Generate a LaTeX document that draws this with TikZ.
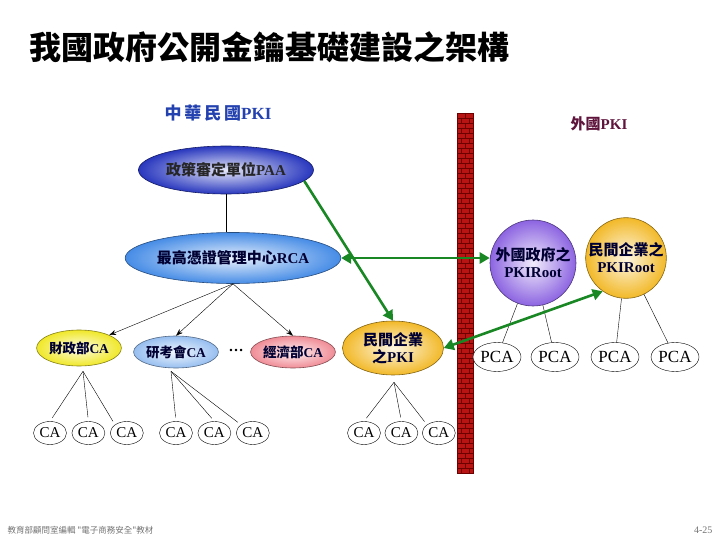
\documentclass[tikz,border=0pt]{standalone}
\usepackage{fontspec}
\setmainfont{Liberation Serif}
\newfontfamily\tc{Noto Sans CJK TC}
\usetikzlibrary{
    arrows.meta,
    positioning,
    shapes.geometric,
    calc
}

\definecolor{paablue}{RGB}{40,55,190}
\definecolor{rcablue}{RGB}{70,140,230}
\definecolor{mofyellow}{RGB}{240,232,40}
\definecolor{rdecblue}{RGB}{150,190,240}
\definecolor{moeared}{RGB}{240,140,150}
\definecolor{pkiorange}{RGB}{242,185,40}
\definecolor{govpurple}{RGB}{140,100,225}
\definecolor{linkgreen}{RGB}{25,135,35}
\definecolor{brickred}{RGB}{185,20,20}
\definecolor{mortar}{RGB}{110,0,0}
\definecolor{rocblue}{RGB}{35,65,175}
\definecolor{foreignred}{RGB}{95,20,60}

\begin{document}
\begin{tikzpicture}[
        x=1pt, y=-1pt,
        org/.style={
            ellipse,
            draw=#1!55!black,
            line width=0.6pt,
            shade,
            inner color=#1!12!white,
            outer color=#1,
            align=center,
            inner sep=0pt,
            text=black!80!blue,
            font=\bfseries\fontsize{15}{17}\selectfont
        },
        root/.style={
            org=#1,
            circle,
            minimum size=84pt
        },
        leaf/.style={
            ellipse,
            draw,
            fill=white,
            inner sep=0pt,
            minimum width=33pt,
            minimum height=23pt,
            font=\fontsize{15}{17}\selectfont
        },
        pcabox/.style={
            leaf,
            minimum width=48pt,
            minimum height=29pt,
            font=\fontsize{17}{19}\selectfont
        },
        line/.style={
            -{Stealth[length=7pt,width=5pt]},
            thin
        },
        link/.style={
            linkgreen,
            line width=2.6pt,
            -{Triangle[length=10pt,width=11pt]}
        },
        node distance=5pt
    ]

    \useasboundingbox (0,0) rectangle (720,540);

    % title and footer
    \node[font=\tc\bfseries\fontsize{32}{34}\selectfont, anchor=west] (title) at (26,47)
        {我國政府公開金鑰基礎建設之架構};
    \node[font=\tc\fontsize{8.5}{10}\selectfont, text=black!55, anchor=west] (footer) at (4,530)
        {教育部顧問室編輯 "電子商務安全"教材};
    \node[font=\fontsize{10}{12}\selectfont, text=black!55, anchor=east] (page) at (716,530)
        {4-25};

    % firewall
    \fill[brickred] (457,113) rectangle (473,473);
    \foreach \r in {0,...,71} {
        \draw[mortar, line width=0.5pt] (457,113+\r*5) -- (473,113+\r*5);
    }
    \foreach \r in {0,2,...,70} {
        \draw[mortar, line width=0.5pt] (465,113+\r*5) -- (465,118+\r*5);
        \draw[mortar, line width=0.5pt] (461,118+\r*5) -- (461,123+\r*5);
        \draw[mortar, line width=0.5pt] (469,118+\r*5) -- (469,123+\r*5);
    }
    \draw[mortar, line width=0.8pt] (457,113) rectangle (473,473);

    % domestic side
    \node[font=\bfseries\fontsize{17}{19}\selectfont, text=rocblue] (roc) at (218,113)
        {{\tc 中\,華\,民\,國}PKI};

    \node[org=paablue, minimum width=175pt, minimum height=48pt, text=black!85] (paa) at (226,170)
        {{\tc 政策審定單位}PAA};
    \node[org=rcablue, minimum width=193pt, minimum height=51pt] (rca) at (233,258)
        {{\tc 最高憑證管理中心}RCA};

    \node[org=mofyellow, minimum width=82pt, minimum height=36pt,
          font=\bfseries\fontsize{13.5}{15}\selectfont] (mof) at (79,348)
        {{\tc 財政部}CA};
    \node[org=rdecblue, minimum width=78pt, minimum height=32pt,
          font=\bfseries\fontsize{13.5}{15}\selectfont] (rdec) at (176,352)
        {{\tc 研考會}CA};
    \node[font=\bfseries\fontsize{15}{17}\selectfont] (dots) at (236,350) {…};
    \node[org=moeared, minimum width=78pt, minimum height=32pt,
          font=\bfseries\fontsize{13.5}{15}\selectfont] (moea) at (293,352)
        {{\tc 經濟部}CA};
    \node[org=pkiorange, minimum width=101pt, minimum height=54pt] (privpki) at (393,348)
        {{\tc 民間企業}\\{\tc 之}PKI};

    % foreign side
    \node[font=\bfseries\fontsize{15}{17}\selectfont, text=foreignred] (foreign) at (599,124)
        {{\tc 外國}PKI};
    \node[root=govpurple, minimum size=86pt] (forgov) at (533,263)
        {{\tc 外國政府之}\\PKIRoot};
    \node[root=pkiorange, minimum size=80pt] (forpriv) at (626,258)
        {{\tc 民間企業之}\\PKIRoot};

    % leaf authorities
    \node[leaf] (ca1) at (50,433) {CA};
    \node[leaf, right=of ca1] (ca2) {CA};
    \node[leaf, right=of ca2] (ca3) {CA};
    \node[leaf] (ca4) at (176,433) {CA};
    \node[leaf, right=of ca4] (ca5) {CA};
    \node[leaf, right=of ca5] (ca6) {CA};
    \node[leaf] (ca7) at (364,433) {CA};
    \node[leaf, right=4pt of ca7] (ca8) {CA};
    \node[leaf, right=4pt of ca8] (ca9) {CA};

    \node[pcabox] (pca1) at (497,357) {PCA};
    \node[pcabox] (pca2) at (555,357) {PCA};
    \node[pcabox] (pca3) at (615,357) {PCA};
    \node[pcabox] (pca4) at (675,357) {PCA};

    % hierarchy lines
    \draw[thin] (paa.south) -- (paa.south |- rca.north);
    \draw[line] (rca.south) -- (mof.north east);
    \draw[line] (rca.south) -- (rdec.north);
    \draw[line] (rca.south) -- (moea.north);

    \coordinate (mofhub) at ($(mof.south)+(4,5)$);
    \coordinate (rdechub) at ($(rdec.south)+(-5,3)$);
    \coordinate (pkihub) at ($(privpki.south)+(1,7)$);
    \foreach \hub/\a/\b/\c in {mofhub/ca1/ca2/ca3, rdechub/ca4/ca5/ca6, pkihub/ca7/ca8/ca9} {
        \draw[thin, shorten >=4pt] (\hub) -- (\a.north);
        \draw[thin, shorten >=4pt] (\hub) -- (\b.north);
        \draw[thin, shorten >=4pt] (\hub) -- (\c.north west);
    }

    \draw[thin] (forgov) -- (pca1);
    \draw[thin] (forgov) -- (pca2);
    \draw[thin] (forpriv) -- (pca3);
    \draw[thin] (forpriv) -- (pca4);

    % cross links
    \draw[link] (paa.-8) -- (privpki.north);
    \draw[link, {Triangle[length=10pt,width=11pt]}-{Triangle[length=10pt,width=11pt]}]
        (rca.east) -- (rca.east -| forgov.west);
    \draw[link, {Triangle[length=10pt,width=11pt]}-{Triangle[length=10pt,width=11pt]}]
        (forpriv.-125) -- (privpki.east);

\end{tikzpicture}
\end{document}
